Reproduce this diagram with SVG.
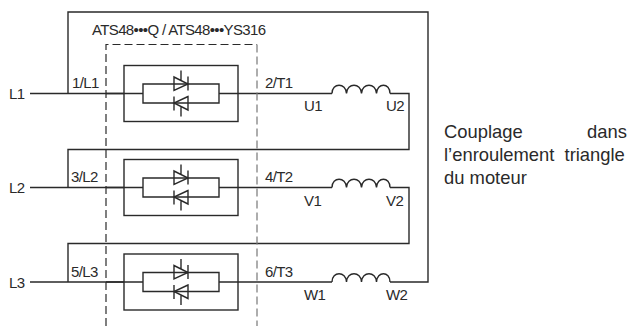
<svg xmlns="http://www.w3.org/2000/svg" xmlns:xlink="http://www.w3.org/1999/xlink" width="631" height="326" viewBox="0 0 631 326">
<style>
text{font-family:"Liberation Sans",Arial,sans-serif;font-size:15px;fill:#2a2a2a;letter-spacing:-.6px}
.c{font-size:18.4px;letter-spacing:0}
.w{fill:none;stroke:#2a2a2a;stroke-width:1.4}
.d{fill:none;stroke-width:1.2;stroke-dasharray:8 4}
</style>
<defs>
<g id="thy" class="w">
<rect x="124" y="-28" width="114" height="56"/>
<path d="M106 0H143M219 0H238M143 -9.500H219V9.500H143Z"/>
<path d="M174 -16.500L188 -9.500L174 -3ZM188 -17V-3M181 -23V-13"/>
<path d="M188 3L174 9.500L188 16.500ZM174 3V17M181 13V23"/>
</g>
<path id="coil" class="w" d="M332 0C332 -11 346 -11 346.500 0C347 -11 361 -11 361.500 0C362 -11 376 -11 376.500 0C377 -11 390 -11 390 0"/>
</defs>
<g id="connectors" class="w">
<path d="M30 93.500H124M238 93.500H332M390 93.500H409V149.500H68V187.500"/>
<path d="M30 187.500H124M238 187.500H332M390 187.500H409V243.500H68V282"/>
<path d="M30 282H124M238 282H332M390 282H428V12H68V93.500"/>
</g>
<g id="enclosure">
<path class="d" stroke="#2a2a2a" d="M106 326V44.500H257"/>
<path class="d" stroke="#777" d="M257 44.500V326"/>
<text x="92" y="35" style="letter-spacing:-.64px">ATS48•••Q / ATS48•••YS316</text>
</g>
<g id="node-1"><use xlink:href="#thy" href="#thy" y="93.500"/><text x="72" y="88">1/L1</text><text x="265" y="88">2/T1</text></g>
<g id="node-2"><use xlink:href="#thy" href="#thy" y="187.500"/><text x="71" y="182">3/L2</text><text x="265" y="182">4/T2</text></g>
<g id="node-3"><use xlink:href="#thy" href="#thy" y="282"/><text x="71" y="277">5/L3</text><text x="265" y="277">6/T3</text></g>
<g id="coil-1"><use xlink:href="#coil" href="#coil" y="93.500"/><text x="304" y="111">U1</text><text x="386" y="111">U2</text></g>
<g id="coil-2"><use xlink:href="#coil" href="#coil" y="187.500"/><text x="304" y="205.500">V1</text><text x="386" y="205.500">V2</text></g>
<g id="coil-3"><use xlink:href="#coil" href="#coil" y="282"/><text x="304" y="300">W1</text><text x="386" y="300">W2</text></g>
<g id="lines"><text x="9" y="99">L1</text><text x="9" y="193">L2</text><text x="9" y="288">L3</text></g>
<g id="caption"><text class="c" x="444" y="138">Couplage</text><text class="c" x="587" y="138">dans</text><text class="c" x="444" y="161" style="word-spacing:5px">l’enroulement triangle</text><text class="c" x="444" y="184">du moteur</text></g>
</svg>
